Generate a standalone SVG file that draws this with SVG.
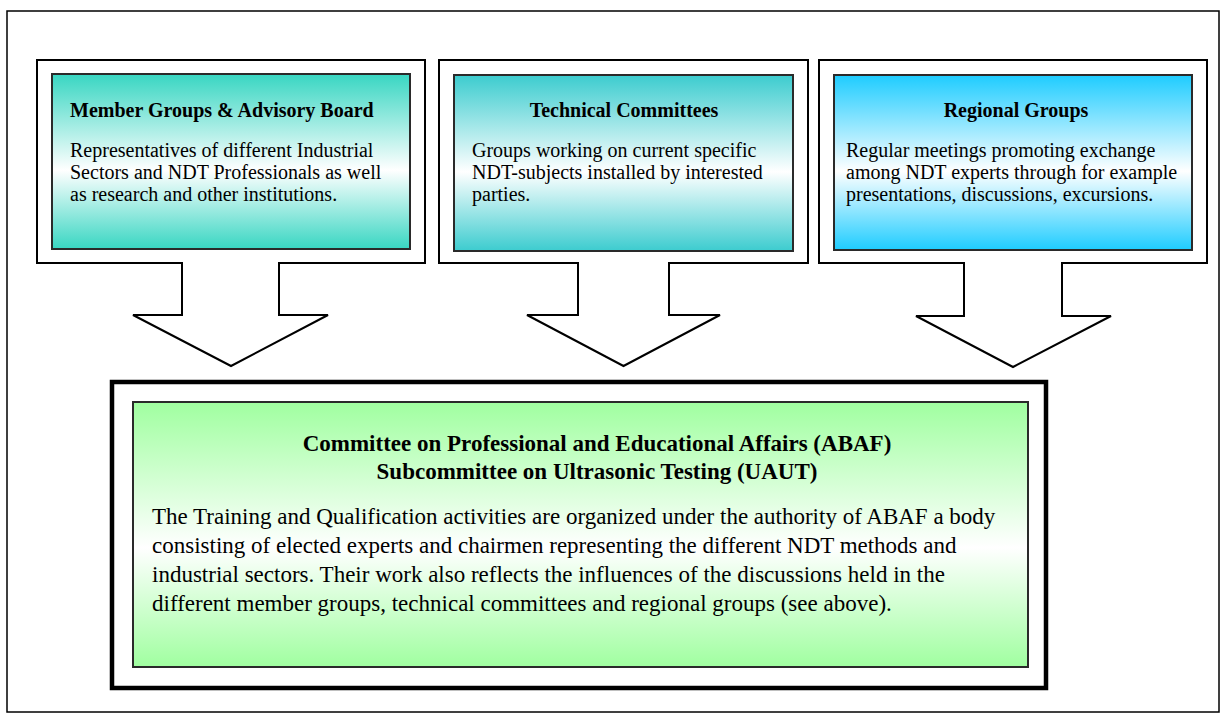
<svg xmlns="http://www.w3.org/2000/svg" width="1227" height="722" viewBox="0 0 1227 722">
<style>
.frame{fill:#fff;stroke:#000;stroke-width:1.5}
.callout{fill:#fff;stroke:#000;stroke-width:2;stroke-linejoin:miter}
.inner{stroke:#2a2a2a;stroke-width:2}
.t{font-family:"Liberation Serif","Times New Roman",serif;fill:#000}
.h{font-size:20px;font-weight:bold}
.b{font-size:20px}
.H{font-size:23px;font-weight:bold}
.B{font-size:23px}
</style>
<defs>
<linearGradient id="g1" x1="0" y1="0" x2="0" y2="1">
<stop offset="0" stop-color="#38D6C2"/><stop offset="0.55" stop-color="#ffffff"/><stop offset="1" stop-color="#38D6C2"/>
</linearGradient>
<linearGradient id="g2" x1="0" y1="0" x2="0" y2="1">
<stop offset="0" stop-color="#3CCCCF"/><stop offset="0.55" stop-color="#ffffff"/><stop offset="1" stop-color="#3CCCCF"/>
</linearGradient>
<linearGradient id="g3" x1="0" y1="0" x2="0" y2="1">
<stop offset="0" stop-color="#1ECCFF"/><stop offset="0.55" stop-color="#ffffff"/><stop offset="1" stop-color="#1ECCFF"/>
</linearGradient>
<linearGradient id="g4" x1="0" y1="0" x2="0" y2="1">
<stop offset="0" stop-color="#A0FFA0"/><stop offset="0.55" stop-color="#ffffff"/><stop offset="1" stop-color="#A0FFA0"/>
</linearGradient>
</defs>
<rect class="frame" x="7" y="11" width="1212" height="701"/>
<g id="connectors">
<path class="callout" d="M37,60 H425 V263 H279 V315 H328 L231,366 L133,315 H182 V263 H37 Z"/>
<path class="callout" d="M439,60 H808 V263 H669 V315 H720 L623.5,366 L527,315 H578 V263 H439 Z"/>
<path class="callout" d="M819,60 H1207 V263 H1062 V316 H1111 L1013,367 L916,316 H964 V263 H819 Z"/>
</g>
<g id="member-groups">
<rect class="inner" x="52" y="74" width="358" height="175" fill="url(#g1)"/>
<text class="t h" x="70" y="117">Member Groups &amp; Advisory Board</text>
<text class="t b" x="70" y="157">Representatives of different Industrial</text>
<text class="t b" x="70" y="179">Sectors and NDT Professionals as well</text>
<text class="t b" x="70" y="201">as research and other institutions.</text>
</g>
<g id="technical-committees">
<rect class="inner" x="454" y="75" width="339" height="176" fill="url(#g2)"/>
<text class="t h" x="624" y="117" text-anchor="middle">Technical Committees</text>
<text class="t b" x="472" y="157">Groups working on current specific</text>
<text class="t b" x="472" y="179">NDT-subjects installed by interested</text>
<text class="t b" x="472" y="201">parties.</text>
</g>
<g id="regional-groups">
<rect class="inner" x="834" y="75" width="358" height="175" fill="url(#g3)"/>
<text class="t h" x="1016" y="117" text-anchor="middle">Regional Groups</text>
<text class="t b" x="846" y="157">Regular meetings promoting exchange</text>
<text class="t b" x="846" y="179">among NDT experts through for example</text>
<text class="t b" x="846" y="201">presentations, discussions, excursions.</text>
</g>
<g id="abaf">
<rect x="112" y="382" width="934" height="306" fill="#fff" stroke="#000" stroke-width="4.5"/>
<rect class="inner" x="133" y="402" width="895" height="265" fill="url(#g4)"/>
<text class="t H" x="597" y="451" text-anchor="middle">Committee on Professional and Educational Affairs (ABAF)</text>
<text class="t H" x="597" y="479" text-anchor="middle">Subcommittee on Ultrasonic Testing (UAUT)</text>
<text class="t B" x="152" y="524">The Training and Qualification activities are organized under the authority of ABAF a body</text>
<text class="t B" x="152" y="553">consisting of elected experts and chairmen representing the different NDT methods and</text>
<text class="t B" x="152" y="582">industrial sectors. Their work also reflects the influences of the discussions held in the</text>
<text class="t B" x="152" y="611">different member groups, technical committees and regional groups (see above).</text>
</g>
</svg>
